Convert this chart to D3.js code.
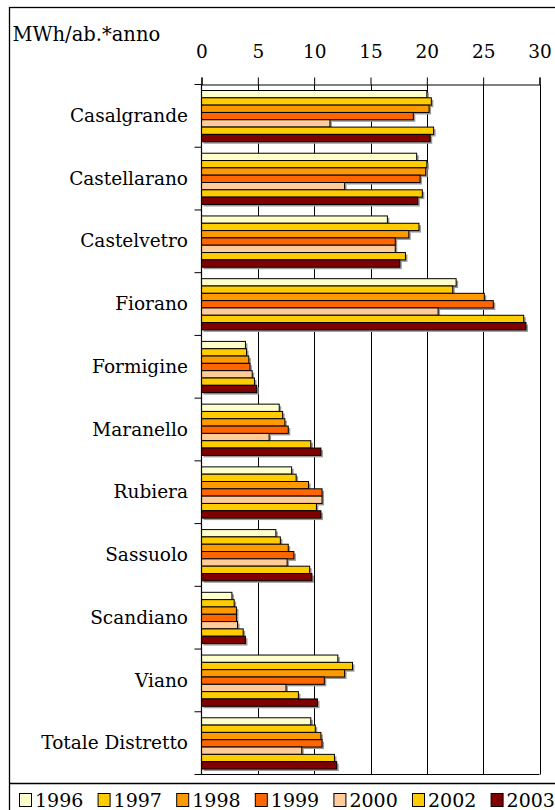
<!DOCTYPE html>
<html>
<head>
<meta charset="utf-8">
<script src="https://cdn.jsdelivr.net/npm/d3@7"></script>
<style>
  body { margin: 0; background: #fff; }
  svg { display: block; }
  svg text { font-family: "DejaVu Serif", serif; fill: #000; }
</style>
</head>
<body>
<div class="svg-container"></div>
<script>
// data
const categories = ["Casalgrande", "Castellarano", "Castelvetro", "Fiorano", "Formigine",
  "Maranello", "Rubiera", "Sassuolo", "Scandiano", "Viano", "Totale Distretto"];
const years = ["1996", "1997", "1998", "1999", "2000", "2002", "2003"];
const v1996 = [20.0, 19.1, 16.5, 22.6, 3.9, 6.9, 8.0, 6.6, 2.7, 12.1, 9.7];
const v1997 = [20.4, 20.0, 19.3, 22.3, 4.0, 7.2, 8.4, 7.0, 2.9, 13.4, 10.1];
const v1998 = [20.2, 19.9, 18.4, 25.1, 4.2, 7.4, 9.5, 7.7, 3.1, 12.7, 10.6];
const v1999 = [18.8, 19.4, 17.2, 25.9, 4.3, 7.7, 10.7, 8.2, 3.1, 10.9, 10.7];
const v2000 = [11.4, 12.7, 17.2, 21.0, 4.5, 6.0, 10.7, 7.6, 3.2, 7.5, 8.9];
const v2002 = [20.6, 19.6, 18.1, 28.6, 4.7, 9.7, 10.2, 9.6, 3.7, 8.6, 11.8];
const v2003 = [20.3, 19.2, 17.6, 28.8, 4.9, 10.6, 10.6, 9.8, 3.9, 10.3, 12.0];
const xTicks = [0, 5, 10, 15, 20, 25, 30];
const yLabel = "MWh/ab.*anno";

const series = [v1996, v1997, v1998, v1999, v2000, v2002, v2003];
const colors = ["#FFFFCC", "#FFCC00", "#FF9900", "#FF6600", "#FFCC99", "#FFCC00", "#800000"];

const w = 555;
const h = 810;

const rows = [];
series.forEach((vals, j) => {
  vals.forEach((v, i) => rows.push({ cat: categories[i], year: years[j], value: v, color: colors[j] }));
});

const svg = d3.select(".svg-container")
  .append("svg")
  .attr("width", w)
  .attr("height", h);

// frame
svg.append("rect")
  .attr("x", 9.5).attr("y", 7.5)
  .attr("width", w).attr("height", h)
  .attr("fill", "#fff")
  .attr("stroke", "#000")
  .attr("stroke-width", 1.3);

svg.append("line")
  .attr("x1", 9.5).attr("x2", w)
  .attr("y1", 783.5).attr("y2", 783.5)
  .attr("stroke", "#000")
  .attr("stroke-width", 1.3);

// XSCALE
const xScale = d3.scaleLinear()
  .domain([0, 30])
  .range([201.5, 539.5]);

// YSCALE
const yScale = d3.scaleBand()
  .domain(categories)
  .range([84.5, 774.5]);

const ySub = d3.scaleBand()
  .domain(years)
  .range([6, yScale.bandwidth() - 5.5]);

// gridlines
svg.append("g")
  .selectAll("line")
  .data(xTicks.slice(1))
  .enter()
  .append("line")
  .attr("x1", d => Math.round(xScale(d)) + 0.5)
  .attr("x2", d => Math.round(xScale(d)) + 0.5)
  .attr("y1", 84.5)
  .attr("y2", 774.5)
  .attr("stroke", "#000")
  .attr("stroke-width", 1);

// shadows
svg.append("g")
  .selectAll("rect")
  .data(rows)
  .enter()
  .append("rect")
  .attr("x", xScale(0) + 2)
  .attr("y", d => yScale(d.cat) + ySub(d.year) + 2)
  .attr("width", d => xScale(d.value) - xScale(0))
  .attr("height", ySub.bandwidth())
  .attr("fill", "#999");

// RECT
svg.append("g")
  .selectAll("rect")
  .data(rows)
  .enter()
  .append("rect")
  .attr("class", "bar")
  .attr("x", xScale(0))
  .attr("y", d => yScale(d.cat) + ySub(d.year))
  .attr("width", d => xScale(d.value) - xScale(0))
  .attr("height", ySub.bandwidth())
  .attr("fill", d => d.color)
  .attr("stroke", "#000")
  .attr("stroke-width", 1);

// AXIS
const xAxis = d3.axisTop(xScale)
  .tickValues(xTicks)
  .tickSize(7)
  .tickPadding(20)
  .tickFormat(d3.format("d"));

const gx = svg.append("g")
  .attr("transform", "translate(0,84.5)")
  .call(xAxis)
  .attr("font-family", "DejaVu Serif")
  .attr("font-size", 18.5);
gx.select(".domain").attr("stroke-width", 1.2);

// bottom line
svg.append("line")
  .attr("x1", xScale(0)).attr("x2", xScale(30))
  .attr("y1", 774.5).attr("y2", 774.5)
  .attr("stroke", "#000").attr("stroke-width", 1.2);

// category axis
svg.append("line")
  .attr("x1", xScale(0)).attr("x2", xScale(0))
  .attr("y1", 84.5).attr("y2", 774.5)
  .attr("stroke", "#000").attr("stroke-width", 1.2);

svg.append("g")
  .selectAll("line")
  .data(categories.map(c => yScale(c)).concat([yScale.range()[1]]))
  .enter()
  .append("line")
  .attr("x1", xScale(0) - 7).attr("x2", xScale(0))
  .attr("y1", d => d).attr("y2", d => d)
  .attr("stroke", "#000").attr("stroke-width", 1);

svg.append("g")
  .selectAll("text")
  .data(categories)
  .enter()
  .append("text")
  .attr("x", 188)
  .attr("y", d => yScale(d) + yScale.bandwidth() / 2)
  .attr("dy", "0.33em")
  .attr("text-anchor", "end")
  .attr("font-size", 18.5)
  .text(d => d);

svg.append("text")
  .attr("x", 12.5)
  .attr("y", 40.5)
  .attr("font-size", 19.5)
  .text(yLabel);

// legend
const legend = svg.append("g")
  .selectAll("g")
  .data(years)
  .enter()
  .append("g")
  .attr("transform", (d, i) => "translate(" + (19 + i * 78.6) + ",793)");

legend.append("rect")
  .attr("x", 0.5).attr("y", 0.5)
  .attr("width", 12).attr("height", 13)
  .attr("fill", (d, i) => colors[i])
  .attr("stroke", "#000");

legend.append("text")
  .attr("x", 16)
  .attr("y", 13.5)
  .attr("font-size", 19)
  .text(d => d);
</script>
</body>
</html>
